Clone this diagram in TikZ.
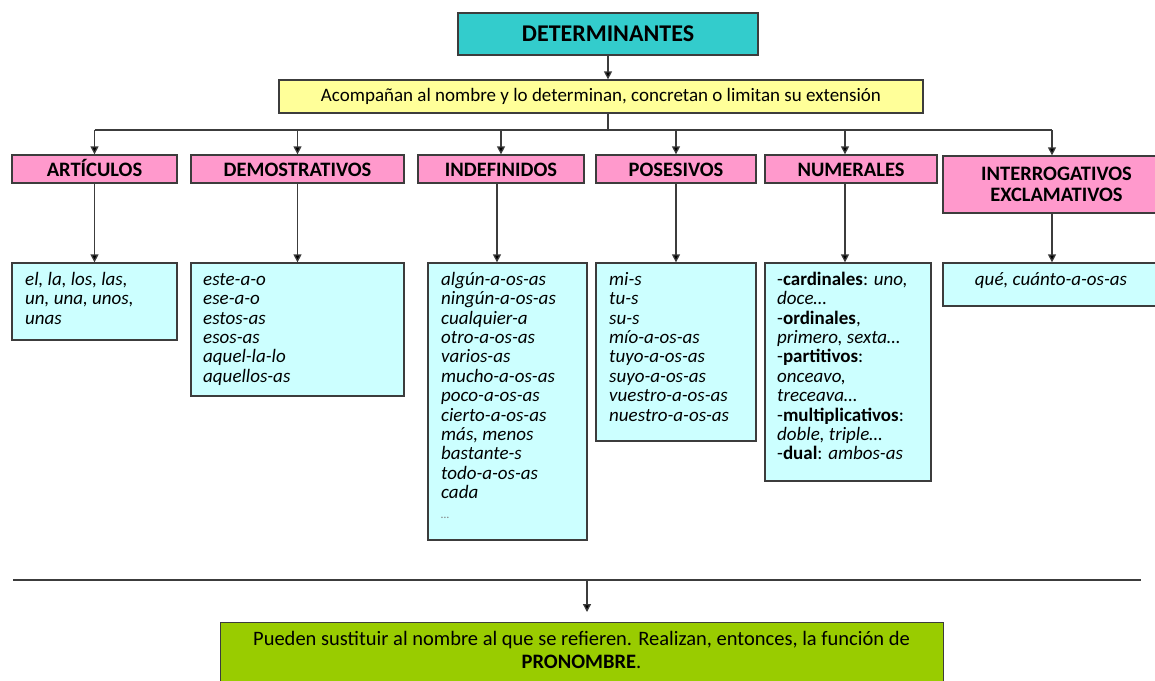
\documentclass[tikz,border=0pt]{standalone}
\usepackage{fontspec}
\setmainfont{Carlito}
\usetikzlibrary{arrows.meta,calc}
\definecolor{tealc}{HTML}{33CCCC}
\definecolor{yelc}{HTML}{FFFF99}
\definecolor{pnkc}{HTML}{FF99CC}
\definecolor{lbluec}{HTML}{CCFFFF}
\definecolor{grnc}{HTML}{99CC00}
\definecolor{edgec}{HTML}{3C3C3C}
\newcommand{\fsz}[2]{\fontsize{#1}{#2}\selectfont}
\newcommand{\tpstrut}{\vrule height 14pt width 0pt}
\begin{document}
\begin{tikzpicture}[x=1pt,y=-1pt,
  box/.style={draw=edgec, line width=1.3pt, rectangle, inner sep=0pt},
  pinkbox/.style={box, fill=pnkc, font=\fsz{20.5}{20.7}\bfseries, text height=17pt, text depth=2.4pt},
  pinkbox2/.style={box, fill=pnkc, font=\fsz{20.5}{20.7}\bfseries, align=center},
  bluebox/.style={box, fill=lbluec},
  btext/.style={inner sep=0pt, anchor=north west, align=left, font=\fsz{19}{19.4}\itshape},
  conn/.style={draw=edgec, line width=1.3pt},
  arr/.style={conn, -{Triangle[width=8pt,length=8pt,fill=black]}},
]
\useasboundingbox (0,0) rectangle (1155,680);
\clip (0,0) rectangle (1155,680);
\fill[white] (0,0) rectangle (1155,680);

% top
\node[box, fill=tealc, minimum width=300pt, minimum height=42pt, font=\fsz{24}{26}\bfseries] (det) at (608,34) {DETERMINANTES};
\node[box, fill=yelc, minimum width=644pt, minimum height=33pt, font=\fsz{19}{21}] (yel) at (601,96.5) {Acompañan al nombre y lo determinan, concretan o limitan su extensión};
\draw[arr] (det.south) -- (det.south |- yel.north);
\coordinate (bus) at (607,130);

% pink boxes
\node[pinkbox, minimum width=165pt, minimum height=28pt] (part) at (94.5,169) {ARTÍCULOS};
\node[pinkbox, minimum width=213pt, minimum height=28pt] (pdem) at (297.5,169) {DEMOSTRATIVOS};
\node[pinkbox, minimum width=166pt, minimum height=28pt] (pind) at (501,169) {INDEFINIDOS};
\node[pinkbox, minimum width=160pt, minimum height=28pt] (ppos) at (676,169) {POSESIVOS};
\node[pinkbox, minimum width=172pt, minimum height=28pt] (pnum) at (851,169) {NUMERALES};
\node[pinkbox2, minimum width=227pt, minimum height=57pt] (pint) at (1056.5,184.5) {INTERROGATIVOS\\EXCLAMATIVOS};
\coordinate (numtop) at ([xshift=-6pt]pnum.north);
\coordinate (numbot) at ([xshift=-6pt]pnum.south);
\coordinate (indbot) at ([xshift=-4pt]pind.south);
\coordinate (inttop) at ([xshift=-4.5pt]pint.north);
\coordinate (intbot) at ([xshift=-4.5pt]pint.south);

\draw[conn] (bus -| det.south) -- (yel.south -| det.south);
\draw[conn] (bus -| part.north) -- (bus -| inttop);
\foreach \n in {part,pdem,pind,ppos}{
  \draw[arr] (bus -| \n.north) -- (\n.north);
}
\draw[arr] (bus -| numtop) -- (numtop);
\draw[arr] (bus -| inttop) -- (inttop);

% blue boxes
\node[bluebox, minimum width=165pt, minimum height=77pt] (bart) at (94.5,301.5) {};
\node[bluebox, minimum width=213pt, minimum height=133pt] (bdem) at (297.5,329.5) {};
\node[bluebox, minimum width=159pt, minimum height=277pt] (bind) at (507.5,401.5) {};
\node[bluebox, minimum width=160pt, minimum height=178pt] (bpos) at (676,352) {};
\node[bluebox, minimum width=166pt, minimum height=218pt] (bnum) at (848,372) {};
\node[bluebox, minimum width=219pt, minimum height=43pt] (bint) at (1052.5,284.5) {};

\draw[arr] (part.south) -- (part.south |- bart.north);
\draw[arr] (pdem.south) -- (pdem.south |- bdem.north);
\draw[arr] (indbot) -- (indbot |- bind.north);
\draw[arr] (ppos.south) -- (ppos.south |- bpos.north);
\draw[arr] (numbot) -- (numbot |- bnum.north);
\draw[arr] (intbot) -- (intbot |- bint.north);

% texts in blue boxes
\node[btext] (tart) at (25,271) {\tpstrut el, la, los, las,\\un, una, unos,\\unas};
\node[btext] (tdem) at (203,271) {\tpstrut este-a-o\\ese-a-o\\estos-as\\esos-as\\aquel-la-lo\\aquellos-as};
\node[btext] (tind) at (441,271) {\tpstrut algún-a-os-as\\ningún-a-os-as\\cualquier-a\\otro-a-os-as\\varios-as\\mucho-a-os-as\\poco-a-os-as\\cierto-a-os-as\\más, menos\\bastante-s\\todo-a-os-as\\cada\\{\fsz{12}{19.4}\color{gray}\dots}};
\node[btext] (tpos) at (609,271) {\tpstrut mi-s\\tu-s\\su-s\\mío-a-os-as\\tuyo-a-os-as\\suyo-a-os-as\\vuestro-a-os-as\\nuestro-a-os-as};
\node[btext, font=\fsz{19}{19.4}] (tnum) at (777,271) {\tpstrut -\textbf{cardinales}: \textit{uno,}\\\textit{doce…}\\-\textbf{ordinales},\\\textit{primero, sexta…}\\-\textbf{partitivos}:\\\textit{onceavo,}\\\textit{treceava…}\\-\textbf{multiplicativos}:\\\textit{doble, triple…}\\-\textbf{dual}: \textit{ambos-as}};
\node[inner sep=0pt, font=\fsz{19}{19.4}\itshape] (tint) at (1051,281) {qué, cuánto-a-os-as};

% bottom
\coordinate (lineL) at (13,580);
\coordinate (lineR) at (1141,580);
\coordinate (atop) at (587,580);
\coordinate (atip) at (587,612);
\draw[conn] (lineL) -- (lineR);
\draw[arr] (atop) -- (atip);
\node[box, fill=grnc, minimum width=723pt, minimum height=90pt, anchor=north west] (green) at (220,622) {};
\node[inner sep=0pt, align=center, anchor=north, font=\fsz{20.5}{23}] (gtext) at (581.5,630) {\vrule height 15pt width 0pt Pueden sustituir al nombre al que se refieren. Realizan, entonces, la función de\\\textbf{PRONOMBRE}.};
\end{tikzpicture}
\end{document}
